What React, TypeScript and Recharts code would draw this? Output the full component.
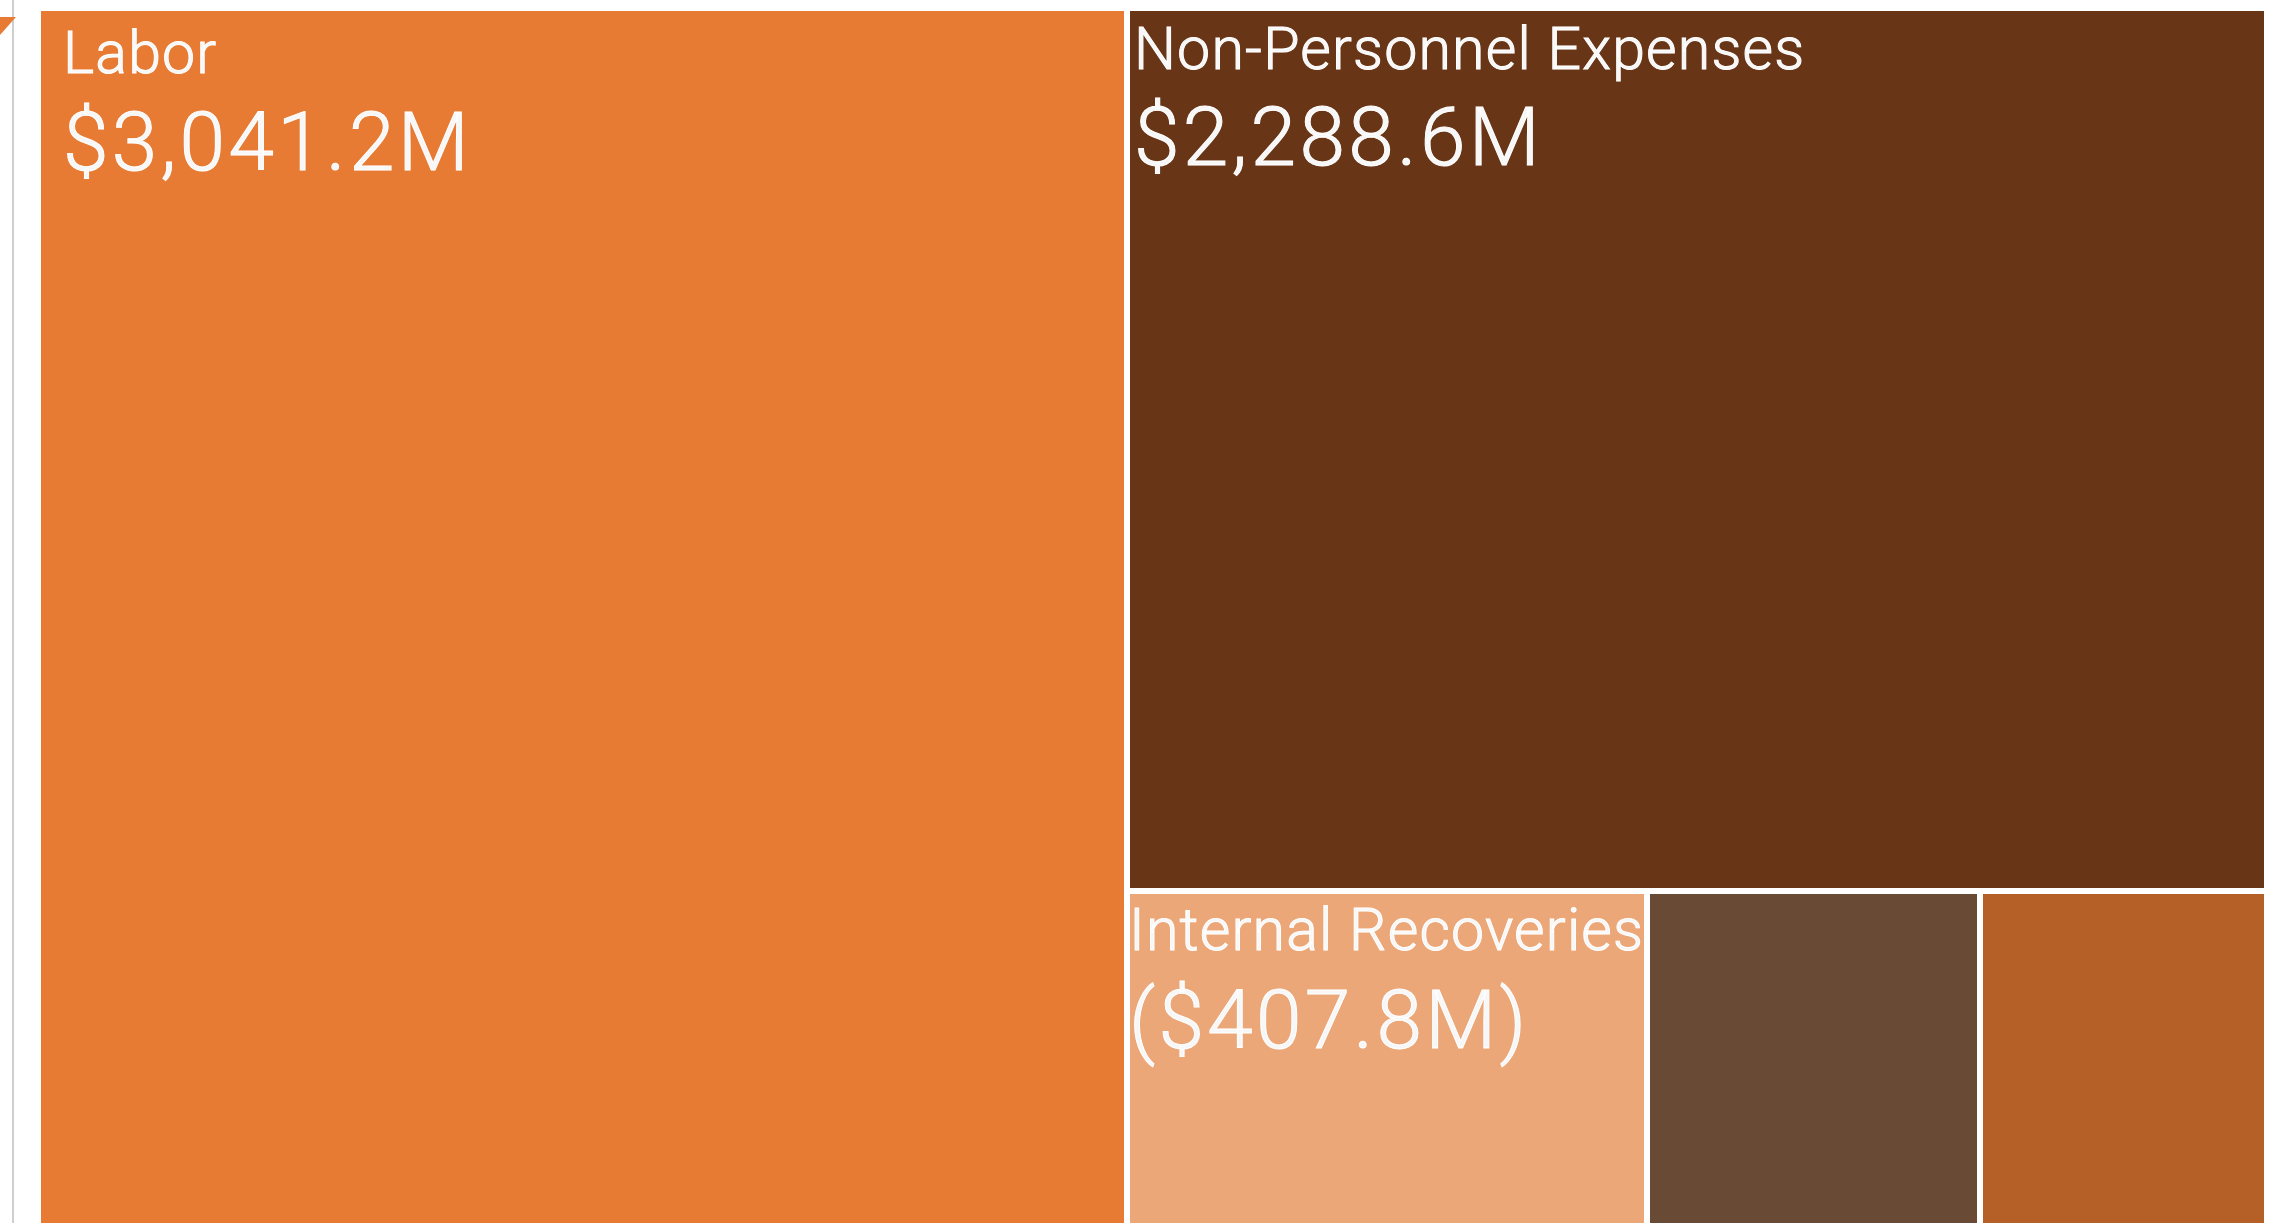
import React from 'react';
import { Treemap } from 'recharts';

// budget categories, in $M (negative = recovery)
const categories = ['Labor', 'Non-Personnel Expenses', 'Internal Recoveries', 'Other A', 'Other B'];
const amounts = [3041.2, 2288.6, -407.8, 261.0, 226.0];

const COLORS = ['#E87B34', '#693517', '#EBA778', '#684A35', '#B46027'];

// per-label text nudges (style only)
const LABEL_STYLE: Record<string, { dx: number; dyName: number; dyValue: number }> = {
  'Labor': { dx: 25, dyName: 65, dyValue: 162 },
  'Non-Personnel Expenses': { dx: 7, dyName: 61, dyValue: 157 },
  'Internal Recoveries': { dx: 2, dyName: 59, dyValue: 157 },
};

const TEXT_COLOR = '#F7F7F7';
const FONT = 'Roboto, "Liberation Sans", sans-serif';

const treeData = categories.map((name, i) => ({
  name,
  amount: amounts[i],
  size: Math.abs(amounts[i]),
  fill: COLORS[i % COLORS.length],
}));

const formatAmount = (v: number) => {
  const s = '$' + Math.abs(v).toLocaleString('en-US', { minimumFractionDigits: 1, maximumFractionDigits: 1 }) + 'M';
  return v < 0 ? `(${s})` : s;
};

const BudgetCell = (props: any) => {
  const { x, y, width, height, depth, name, amount, fill } = props;
  if (depth !== 1) return <g />;
  const style = LABEL_STYLE[name] || { dx: 4, dyName: 60, dyValue: 157 };
  const showLabel = width > 400 && height > 200;
  return (
    <g>
      <rect x={x} y={y} width={width} height={height} fill={fill} stroke="#fff" strokeWidth={6} />
      {showLabel && (
        <>
          <text
            x={x + style.dx}
            y={y + style.dyName}
            fill={TEXT_COLOR}
            fontFamily={FONT}
            fontWeight={300}
            fontSize={59}
            letterSpacing={1.2}
          >
            {name}
          </text>
          <text
            x={x + style.dx}
            y={y + style.dyValue}
            fill={TEXT_COLOR}
            fontFamily={FONT}
            fontWeight={300}
            fontSize={82}
            letterSpacing={3.3}
          >
            {formatAmount(amount)}
          </text>
        </>
      )}
    </g>
  );
};

export default function App() {
  return (
    <div
      style={{
        position: 'fixed',
        left: 0,
        top: 0,
        width: 2291,
        height: 1223,
        overflow: 'hidden',
        background: '#fff',
      }}
    >
      {/* left rule and corner marker */}
      <div style={{ position: 'absolute', left: 12, top: 0, width: 2, height: 1223, background: '#cfcfcf' }} />
      <svg style={{ position: 'absolute', left: 0, top: 0 }} width={20} height={40}>
        <polygon points="0,17 16,17 0,35" fill="#E87B34" />
      </svg>
      <div style={{ position: 'absolute', left: 38, top: 8 }}>
        <Treemap
          width={2229}
          height={1228}
          data={treeData}
          dataKey="size"
          nameKey="name"
          stroke="#fff"
          content={<BudgetCell />}
          isAnimationActive={false}
        />
      </div>
    </div>
  );
}
